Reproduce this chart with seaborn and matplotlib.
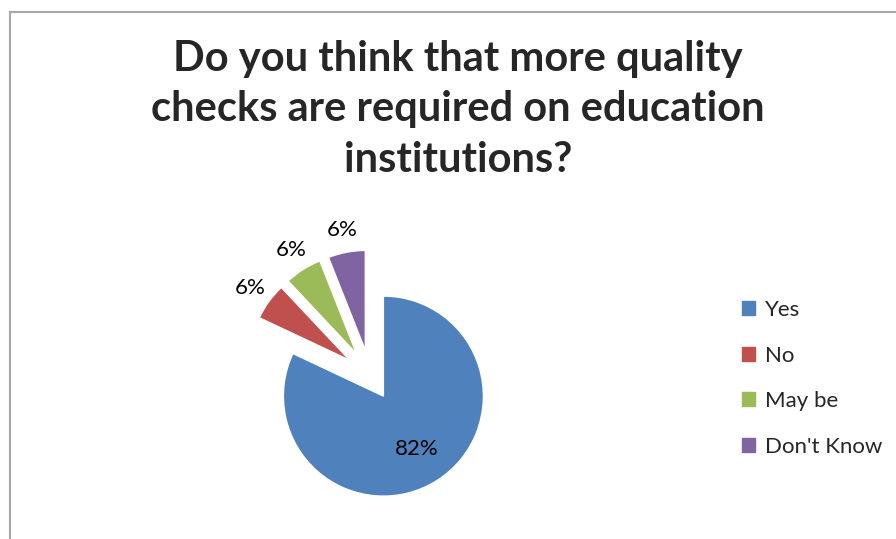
import numpy as np
import seaborn as sns
import matplotlib.pyplot as plt
from matplotlib.patches import Rectangle

# data
answers = ["Yes", "No", "May be", "Don't Know"]
shares = [82, 6, 6, 6]
colors = ["#4F81BD", "#C0504D", "#9BBB59", "#8064A2"]
title = "Do you think that more quality\nchecks are required on education\ninstitutions?"

sns.set_theme(style="white")
plt.rcParams['font.family'] = ['Lato', 'DejaVu Sans']

fig = plt.figure(figsize=(8.96, 5.39), dpi=100)
ax = fig.add_axes([0, 0, 1, 1])

wedges, texts, autotexts = ax.pie(
    shares, colors=colors, startangle=90, counterclock=False,
    explode=[0.25] * len(shares), radius=1.0,
    autopct='%1.0f%%', pctdistance=1.23,
    textprops=dict(fontsize=16, color='black'))

# the big slice keeps its label inside
w = wedges[0]
mid = np.deg2rad((w.theta1 + w.theta2) / 2)
autotexts[0].set_position((w.center[0] + 0.63 * np.cos(mid),
                           w.center[1] + 0.63 * np.sin(mid)))

# 1 data unit = 100 px, pie centre at (370, 375) px
ax.set_xlim(-3.70, 5.26)
ax.set_ylim(-1.64, 3.75)
ax.set_aspect('equal', adjustable='box')
ax.axis('off')

fig.text(0.511, 1 - 40 / 539, title, ha='center', va='top',
         fontsize=30, fontweight='bold', linespacing=1.4)

handles = [Rectangle((0, 0), 1, 1, color=c) for c in colors]
fig.legend(handles, answers, loc='upper left',
           bbox_to_anchor=(722 / 896, 1 - 280 / 539), frameon=False,
           fontsize=16, handlelength=0.6, handleheight=0.6,
           handletextpad=0.45, labelspacing=1.15)

fig.patches.append(Rectangle((10 / 896, -0.1), 1.2, (539 - 12) / 539 + 0.1,
                             transform=fig.transFigure, fill=False,
                             edgecolor='#a6a6a6', linewidth=1.5))

fig.savefig("out.png", dpi=100)
